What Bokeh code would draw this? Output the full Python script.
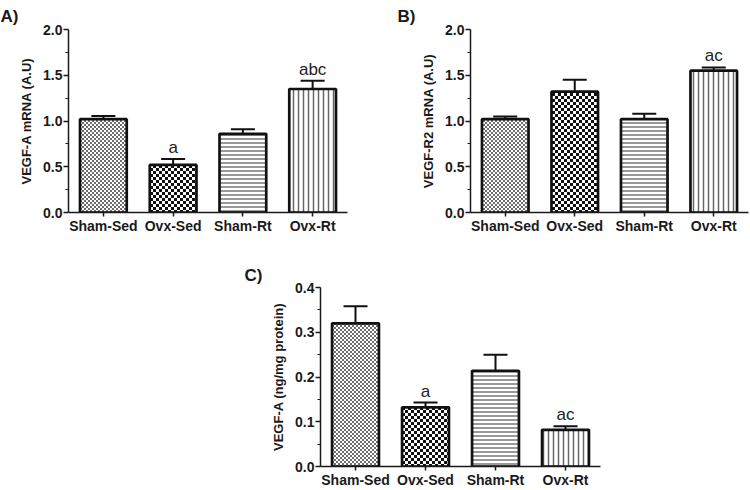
import base64
from bokeh.plotting import figure
from bokeh.layouts import column, row
from bokeh.models import (ColumnDataSource, FactorRange, Range1d, FixedTicker, Whisker,
                          TeeHead, Spacer, NumeralTickFormatter, ImageURLTexture)
from bokeh.core.properties import value
from bokeh.embed import file_html
from bokeh.resources import INLINE

groups = ["Sham-Sed", "Ovx-Sed", "Sham-Rt", "Ovx-Rt"]

a_mean = [1.02, 0.52, 0.86, 1.35]
a_err = [0.035, 0.065, 0.05, 0.09]
a_marks = ["", "a", "", "abc"]

b_mean = [1.02, 1.32, 1.02, 1.55]
b_err = [0.03, 0.13, 0.06, 0.035]
b_marks = ["", "", "", "ac"]

c_mean = [0.320, 0.132, 0.214, 0.082]
c_err = [0.038, 0.011, 0.036, 0.008]
c_marks = ["", "a", "", "ac"]

hatch_pattern = ["fine_check", "coarse_check", "-", "|"]
hatch_color = ["#666666", "#111111", "#777777", "#666666"]
hatch_scale = [4, 6, 4, 5]
hatch_weight = [1.5, 3, 1.5, 1.5]

FONT = "Liberation Sans"
INK = "#1a1a1a"


def checker_tile(n, color):
    svg = ('<svg xmlns="http://www.w3.org/2000/svg" width="%d" height="%d">'
           '<rect width="%d" height="%d" fill="white"/>'
           '<rect width="%d" height="%d" fill="%s"/>'
           '<rect x="%d" y="%d" width="%d" height="%d" fill="%s"/></svg>'
           % (2 * n, 2 * n, 2 * n, 2 * n, n, n, color, n, n, n, n, color))
    return "data:image/svg+xml;base64," + base64.b64encode(svg.encode()).decode()


textures = {
    "fine_check": ImageURLTexture(url=checker_tile(2, "#6e6e6e")),
    "coarse_check": ImageURLTexture(url=checker_tile(3, "#111111")),
}


def panel(mean, err, marks, ymax, yticks, yminor, ylabel, tag, width, height,
          bl, br, bt, bb, tag_offset, tag_standoff):
    src = ColumnDataSource(dict(
        x=groups, top=mean,
        upper=[m + e for m, e in zip(mean, err)],
        lower=[m - e for m, e in zip(mean, err)],
        marks=marks,
        hp=hatch_pattern, hc=hatch_color, hs=hatch_scale, hw=hatch_weight,
    ))
    p = figure(x_range=FactorRange(*groups, range_padding=0),
               y_range=Range1d(0, ymax), title=tag,
               width=width, height=height, output_backend="svg",
               toolbar_location=None, min_border_left=bl, min_border_right=br,
               min_border_top=bt, min_border_bottom=bb)
    p.title.text_font = FONT
    p.title.text_font_style = "bold"
    p.title.text_font_size = "17px"
    p.title.text_color = INK
    p.title.align = "left"
    p.title.offset = tag_offset
    p.title.standoff = tag_standoff
    p.outline_line_color = None
    p.xgrid.grid_line_color = None
    p.ygrid.grid_line_color = None
    p.vbar(x="x", top="top", width=0.67, source=src, fill_color="white",
           line_color="#111111", line_width=2.7,
           hatch_pattern="hp", hatch_color="hc", hatch_scale="hs",
           hatch_weight="hw", hatch_extra=textures)
    w = Whisker(base="x", upper="upper", lower="lower", source=src,
                line_color="#111111", line_width=2,
                upper_head=TeeHead(size=24, line_width=2, line_color="#111111"),
                lower_head=TeeHead(size=24, line_width=2, line_color="#111111"))
    p.add_layout(w)
    p.text(x="x", y="upper", text="marks", source=src, text_align="center",
           text_baseline="bottom", y_offset=-2, text_font=value(FONT),
           text_font_size="17px", text_color="#222222")

    ya = p.yaxis[0]
    ya.ticker = FixedTicker(ticks=yticks, minor_ticks=yminor)
    ya.formatter = NumeralTickFormatter(format="0.0")
    ya.axis_label = ylabel
    ya.axis_label_text_font = FONT
    ya.axis_label_text_font_style = "bold"
    ya.axis_label_text_font_size = "13px"
    ya.axis_label_text_color = INK
    ya.axis_label_standoff = 6
    ya.major_label_text_font = FONT
    ya.major_label_text_font_style = "bold"
    ya.major_label_text_font_size = "14px"
    ya.major_label_text_color = INK
    ya.major_label_standoff = 1
    ya.axis_line_width = 1.5
    ya.axis_line_color = INK
    ya.major_tick_line_color = INK
    ya.minor_tick_line_color = INK
    ya.major_tick_line_width = 1.5
    ya.minor_tick_line_width = 1.2
    ya.major_tick_out = 5
    ya.major_tick_in = 0
    ya.minor_tick_out = 3
    ya.minor_tick_in = 0

    xa = p.xaxis[0]
    xa.major_label_text_font = FONT
    xa.major_label_text_font_style = "bold"
    xa.major_label_text_font_size = "14px"
    xa.major_label_text_color = INK
    xa.major_label_standoff = 1
    xa.axis_line_width = 1.5
    xa.axis_line_color = INK
    xa.major_tick_line_color = INK
    xa.major_tick_line_width = 1.5
    xa.major_tick_out = 4
    xa.major_tick_in = 0
    xa.minor_tick_line_color = None
    return p


pa = panel(a_mean, a_err, a_marks, 2.0, [0, 0.5, 1.0, 1.5, 2.0],
           [0.25, 0.75, 1.25, 1.75], "VEGF-A mRNA (A.U)", "A)",
           375, 245, 68, 28, 28, 32, -68, 8)
pb = panel(b_mean, b_err, b_marks, 2.0, [0, 0.5, 1.0, 1.5, 2.0],
           [0.25, 0.75, 1.25, 1.75], "VEGF-R2 mRNA (A.U)", "B)",
           375, 245, 95, 2, 28, 33, -73, 8)
pc = panel(c_mean, c_err, c_marks, 0.4, [0, 0.1, 0.2, 0.3, 0.4],
           [0.05, 0.15, 0.25, 0.35], "VEGF-A (ng/mg protein)", "C)",
           370, 245, 80, 10, 42, 21, -76, 6)

layout = column(row(pa, pb), row(Spacer(width=240, height=245), pc))

open("out.html", "w").write(file_html(layout, INLINE))
